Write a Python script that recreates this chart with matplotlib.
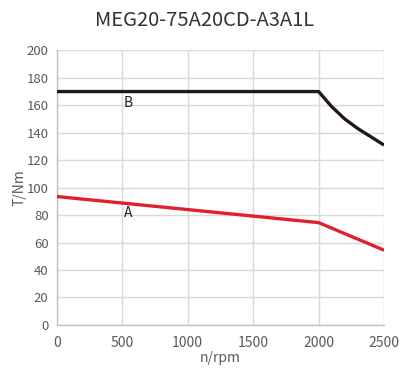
import matplotlib
matplotlib.use("Agg")
import matplotlib.pyplot as plt

plt.rcParams['font.family'] = ['Noto Sans CJK SC', 'DejaVu Sans']

title = "MEG20-75A20CD-A3A1L"
speed_b = [0, 2000, 2100, 2200, 2300, 2400, 2500]
torque_b = [170, 170, 159, 150, 143, 137, 131]
speed_a = [0, 2000, 2500]
torque_a = [93.5, 74.5, 54.4]
x_ticks = [0, 500, 1000, 1500, 2000, 2500]
y_ticks = [0, 20, 40, 60, 80, 100, 120, 140, 160, 180, 200]

fig = plt.figure(figsize=(4.09, 3.76), dpi=100)
ax = fig.add_axes([0.139, 0.136, 0.800, 0.730])

grid_c = '#d9d9d9'
text_c = '#595959'

ax.plot(speed_b, torque_b, color='#231815', lw=2.4, solid_capstyle='butt', zorder=3)
ax.plot(speed_a, torque_a, color='#e0202a', lw=2.4, solid_capstyle='butt', zorder=3)

ax.text(543, 81.5, 'A', fontsize=10, color='#222222', ha='center', va='center')
ax.text(548, 161.5, 'B', fontsize=10, color='#222222', ha='center', va='center')

ax.set_xlim(0, 2500)
ax.set_ylim(0, 200)
ax.set_xticks(x_ticks)
ax.set_yticks(y_ticks)
ax.grid(True, color=grid_c, lw=1.0)
ax.set_axisbelow(True)
for s in ['top', 'right']:
    ax.spines[s].set_visible(False)
for s in ['left', 'bottom']:
    ax.spines[s].set_color('#bfbfbf')
    ax.spines[s].set_linewidth(1.0)
ax.tick_params(axis='y', length=0, labelsize=9.5, colors=text_c, pad=6)
ax.tick_params(axis='x', length=0, labelsize=10, colors=text_c, pad=8)

ax.set_xlabel('n/rpm', fontsize=10, color=text_c, labelpad=1)
ax.set_ylabel('T/Nm', fontsize=10, color=text_c, labelpad=0)
fig.text(0.5, 0.945, title, fontsize=14.5, color='#333333', ha='center', va='center')

fig.savefig('out.png', dpi=100, facecolor='white')
